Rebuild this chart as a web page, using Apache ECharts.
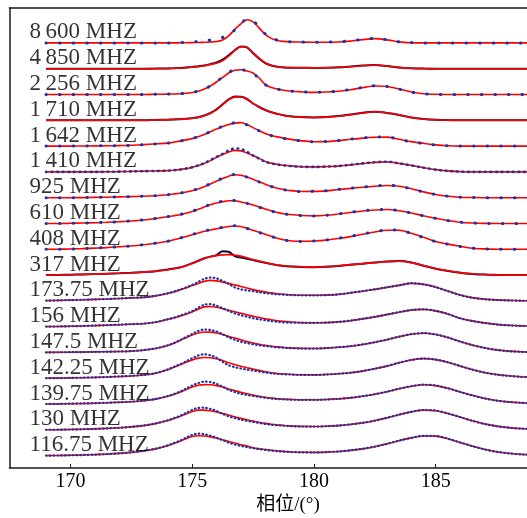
<!DOCTYPE html>
<html>
<head>
<meta charset="utf-8">
<script src="https://cdn.jsdelivr.net/npm/echarts@6/dist/echarts.min.js"></script>
<style>
  html, body { margin: 0; padding: 0; background: #fff; }
  #chart { width: 527px; height: 518px; }
</style>
</head>
<body>
<div id="chart"></div>
<script>
// Phase grid (degrees) shared by every profile: 0.5° steps, 0.25° across the main pulse
const phase = [169, 169.5, 170, 170.5, 171, 171.5, 172, 172.5, 173, 173.5,
  174, 174.25, 174.5, 174.75, 175, 175.25, 175.5, 175.75, 176, 176.25, 176.5, 176.75, 177, 177.25, 177.5, 177.75, 178, 178.25, 178.5, 178.75, 179,
  179.5, 180, 180.5, 181, 181.5, 182, 182.5, 183, 183.5, 184, 184.5, 185, 185.5, 186, 186.5, 187, 187.5, 188, 188.5, 189];

// Observing bands, top to bottom
const bandLabels = ['8\u2009600 MHZ', '4\u2009850 MHZ', '2\u2009256 MHZ', '1\u2009710 MHZ', '1\u2009642 MHZ', '1\u2009410 MHZ',
  '925 MHZ', '610 MHZ', '408 MHZ', '317 MHZ', '173.75 MHZ', '156 MHZ', '147.5 MHZ', '142.25 MHZ', '139.75 MHZ', '130 MHZ', '116.75 MHZ'];

// Fitted profiles (red) and observed profiles, relative flux
const fit8600 = [0,0,0,0,0,0,0,0,0,0,
  0,0,0.1,0.2,0.3,0.4,0.6,0.9,1.4,3,7,13.5,19,23.2,21,15,8.5,4.5,2.4,1.5,1.1,
  0.8,0.6,0.6,0.9,1.8,3.3,4.3,3,1,0.2,0,0,0,0,0,0,0,0,0,0];
const obs8600 = [0,0,0,0,0,0,0,0,0,0,
  0,0.1,0.3,0.6,1,1.4,1.8,2.8,4,5.5,7.5,13,19.5,23.5,22.3,15.5,9,4.5,2.8,1.6,1.1,
  0.8,0.7,0.8,1.2,2,3.4,4.5,3.2,1.1,0.3,0,0,0,0,0,0,0,0,0,0];
const fit4850 = [0,0,0,0,0,0,0,0,0,0.1,
  0.3,0.5,0.7,1,1.5,2.1,3,4.2,5.5,8,12.5,18,22,21.5,16,10.5,6,3.5,2,1.4,1.1,
  0.9,0.8,0.9,1.2,2,3,3.7,2.6,1.1,0.4,0.1,0,0,0,0,0,0,0,0,0];
const obs4850 = [0,0,0,0,0,0,0,0,0,0.1,
  0.3,0.5,0.8,1.2,1.8,2.5,3.3,4.6,6.3,9,13.5,18.5,22.3,21.3,15.5,10,5.5,3.2,1.9,1.3,1,
  0.9,0.8,1,1.4,2.2,3.1,3.8,2.7,1.2,0.4,0.1,0,0,0,0,0,0,0,0,0];
const fit2256 = [0,0,0,0,0,0,0,0,0,0.2,
  0.4,0.5,0.7,1.2,2,3.3,5.5,8.5,12.5,17,21.5,24.3,24.8,23.5,21.5,16.5,10,7,5.5,4.3,3.5,
  2.6,2.1,2.5,3.2,4.8,6.8,8.5,8,5.5,2.5,0.7,0.2,0,0,0,0,0,0,0,0];
const obs2256 = [0,0,0,0,0,0,0,0,0,0.2,
  0.4,0.5,0.8,1.3,2.1,3.4,5.6,8.6,12.8,17.5,22,24.8,25,23.5,21,16,10,7,5.4,4.2,3.4,
  2.6,2.2,2.6,3.3,5,7,8.7,8,5.4,2.4,0.7,0.2,0,0,0,0,0,0,0,0];
const fit1710 = [0,0,0,0,0,0,0,0,0,0.3,
  0.6,0.8,1,1.4,2,2.8,4.5,7,10.5,15.5,20.5,23.2,23.3,21.5,17,13.5,10.5,8,6.5,5,4,
  3.2,2.8,3.2,4,5.5,7.3,8.6,7.5,5.5,2.8,1.3,0.5,0.2,0,0,0,0,0,0,0];
const obs1710 = [0,0,0,0,0,0,0,0,0,0.3,
  0.6,0.8,1.1,1.5,2.1,3,4.8,7.3,11,16,21,23.8,23.5,21.3,16.8,13.3,10.3,8,6.4,5,4,
  3.2,2.9,3.3,4.2,5.7,7.5,8.5,7.3,5.3,2.8,1.3,0.5,0.2,0,0,0,0,0,0,0];
const fit1642 = [0,0,0,0.1,0.2,0.3,0.5,0.8,1.5,2.3,
  3,4,5,6.2,7.5,9.3,11.5,14.3,17,19.5,21.5,23,23.5,21.5,18.5,15.5,12.5,10.7,9.2,8,7,
  5.2,4.4,4.5,5.5,6.8,8,8.8,9,6.8,4.5,2.8,1.2,0.3,0,0,0,0,0,0,0];
const obs1642 = [0,0,0,0.1,0.2,0.3,0.5,0.8,1.4,2.2,
  3,4,5,6.3,7.6,9.5,11.8,14.5,17.2,19.8,21.8,23.3,23.5,21.3,18.2,15.3,12.3,10.5,9,7.8,6.9,
  5.1,4.4,4.6,5.6,7,8.2,9,9.1,6.7,4.3,2.6,1.1,0.3,0,0,0,0,0,0,0];
const fit1410 = [0,0,0,0,0,0.1,0.3,0.5,0.8,0.9,
  1.3,1.7,2.3,3.3,4.5,6.3,8.5,11.3,14.5,17.5,20,21.5,21,19,16.5,13.5,10.5,8.8,7.5,6.6,6,
  5.2,5,5.3,5.8,7,8.3,9.5,10,8.5,6.5,4.3,2.3,1,0.3,0,0,0,0,0,0];
const obs1410 = [0,0,0,0,0,0.1,0.3,0.5,0.7,0.9,
  1.3,1.7,2.3,3.3,4.6,6.5,8.8,11.8,15,18,21.5,23.5,23,20,16.5,13.2,10.2,8.5,7.3,6.5,5.9,
  5.1,5,5.3,5.9,7.1,8.5,9.7,10.2,8.5,6.4,4.2,2.2,1,0.3,0,0,0,0,0,0];
const fit925 = [0,0,0,0.1,0.3,0.5,0.8,1.1,1.4,2,
  3,3.7,4.5,5.7,7,8.8,11,13.8,16.5,19.2,21.5,23,22.5,20.7,18.5,16,13.5,11.3,9.5,8.2,7.2,
  6.2,6.3,6.8,8.2,9.3,10.5,11.5,12.2,11.5,9,5.8,3.2,1.5,0.5,0.2,0,0,0,0,0];
const obs925 = [0,0,0,0.1,0.3,0.5,0.8,1.1,1.5,2,
  3,3.7,4.6,5.8,7.2,9,11.2,14,16.8,19.5,21.8,23.3,22.6,20.6,18.3,15.8,13.3,11.2,9.4,8.1,7.1,
  6.2,6.4,6.9,8.3,9.5,10.6,11.7,12.4,11.5,8.9,5.7,3.1,1.5,0.5,0.2,0,0,0,0,0];
const fit610 = [0,0,0.2,0.5,0.8,1.2,1.8,2.5,3.5,5,
  6.8,7.8,8.8,10.3,12,14.2,16.5,18.7,20.5,21.8,22.8,22.7,21.5,20.2,18.5,16.5,14.5,12.7,11,9.8,9,
  8,7.6,8.2,9.5,11,12.5,13.5,14,12.8,10.5,7.8,5.2,3,1.3,0.5,0.1,0,0,0,0];
const obs610 = [0,0,0.2,0.5,0.8,1.2,1.8,2.6,3.6,5.1,
  6.9,7.9,9,10.5,12.2,14.4,16.8,19,20.8,22.2,23.2,22.9,21.6,20.1,18.3,16.3,14.3,12.5,10.9,9.7,8.9,
  7.9,7.5,8.2,9.6,11.2,12.7,13.7,14.2,12.8,10.4,7.7,5.1,2.9,1.3,0.5,0.1,0,0,0,0];
const fit408 = [0,0.1,0.3,0.7,1.2,1.7,2.5,3.3,4.5,6,
  8,9.5,11,12.7,14.5,16.3,18,19.3,20.5,21.7,22.8,23.3,22.8,21,19,17,15,13,11,9.6,8.6,
  8,8.3,9.2,10.8,12.7,15,17.3,19,19,16,12,7.8,5.2,3,1.1,0.4,0.1,0,0,0];
const obs408 = [0,0.1,0.3,0.7,1.2,1.8,2.5,3.4,4.6,6.1,
  8.1,9.6,11.2,13,14.8,16.6,18.3,19.6,20.8,22,23.2,23.5,22.8,20.9,18.8,16.8,14.8,12.8,10.9,9.5,8.5,
  7.9,8.3,9.3,11,13,15.3,17.6,19.3,19.1,15.9,11.8,7.7,5.1,2.9,1.1,0.4,0.1,0,0,0];
const fit317 = [0,0.2,0.4,0.7,1,1.4,1.8,2.3,3,3.8,
  5.5,6.5,7.5,9.3,11.5,14,16.5,18.3,19.5,20.2,20.5,20,19,17.3,15.5,14,12.5,11.2,10,9.3,8.8,
  8.2,8,8.5,9.3,10.5,11.5,12.5,13.5,13.8,12.5,9.5,6.5,4.3,2.5,1.3,0.6,0.2,0,0,0];
const obs317 = [0,0.2,0.4,0.7,1,1.4,1.8,2.3,3,3.9,
  5.6,6.6,7.7,9.5,11.8,14.3,16.8,18.5,20,23.8,23.3,19,17.5,16.3,15,13.5,12.3,11,9.9,9.2,8.7,
  8.1,7.9,8.4,9.2,10.4,11.4,12.6,13.7,14,12.6,9.4,6.4,4.2,2.4,1.2,0.5,0.2,0,0,0];
const fit173 = [0.3,0.5,0.8,1.1,1.5,1.9,2.4,3,3.5,5,
  7.5,9,10.8,13,15.3,17.5,19.5,20.5,20,18.8,17.5,16,14.5,12.8,11.3,10,9,8,7.2,6.6,6.2,
  5.7,5.6,5.8,6.5,8,9.7,11.5,13.5,15.5,17.5,16.5,13.8,9.8,6,3.3,1.8,1,0.5,0.2,0.1];
const obs173 = [0.3,0.5,0.8,1.1,1.5,1.9,2.4,3,3.6,5.1,
  7.7,9.3,11.3,13.5,16,19,22,23.3,22.5,20,17,13.5,11.5,10.5,9.8,8.7,7.8,7.2,6.6,6.2,5.9,
  5.6,5.5,5.8,6.5,8.1,9.8,11.6,13.6,15.7,17.7,16.6,13.7,9.7,5.9,3.2,1.7,0.9,0.5,0.2,0.1];
const fit156 = [0.1,0.2,0.4,0.7,1.1,1.5,2,2.5,3,4.5,
  7.3,8.8,10.5,12.5,14.8,17.5,19.8,20.2,19.5,18,16.5,15,13.5,12,10.5,9.2,8,7,6,5.3,4.8,
  4.1,3.9,4.1,4.8,6,7.8,9.8,12.1,14.5,16.6,17.3,15.8,12.8,8.5,5.8,3.8,2.3,1.4,0.8,0.5];
const obs156 = [0.1,0.2,0.4,0.7,1.1,1.5,2,2.5,3.1,4.6,
  7.5,9.1,11,13.2,15.5,19,22,22.5,21,18.5,15.8,13.3,11.5,10,8.5,7.4,6.5,5.6,4.9,4.4,4.1,
  3.9,3.8,4.1,4.8,6.1,7.9,9.9,12.2,14.6,16.7,17.4,15.8,12.7,8.4,5.7,3.7,2.2,1.3,0.8,0.5];
const fit147 = [0.1,0.2,0.3,0.4,0.6,0.8,1,1.3,2.3,4,
  7,9.3,12,14.8,17.5,19.5,20.5,20.4,19.5,18,16.2,14.5,12.8,11,9.5,8.3,7.2,6.3,5.6,5,4.6,
  4.1,4,4.4,5.2,6.3,8,10.2,12.8,15.8,18.3,19.3,18,15,11,7.5,4.7,2.6,1.4,0.7,0.3];
const obs147 = [0.1,0.2,0.3,0.4,0.6,0.8,1,1.4,2.4,4.1,
  7.2,9.5,12.3,15.5,18.5,21.5,23,22.5,21,18.3,15.2,12.8,10.8,9.5,8.3,7.3,6.5,5.8,5.2,4.8,4.4,
  4,3.9,4.4,5.2,6.4,8.1,10.3,12.9,15.9,18.4,19.4,18.1,15,11,7.4,4.6,2.5,1.3,0.7,0.3];
const fit142 = [0.1,0.2,0.4,0.6,0.9,1.3,1.8,2.3,3.3,5,
  8.6,11,13.5,16,18.3,20.2,20.8,20.5,19.5,17.8,15.5,13.7,12,10.6,9.3,7.9,6.5,5.6,4.8,4.3,4,
  3.5,3.4,3.8,4.5,5.5,7.2,9.5,12.2,15.5,18.3,19.7,18.7,16,12.3,8.8,5.8,3.8,2.5,1.6,1];
const obs142 = [0.1,0.2,0.4,0.6,0.9,1.3,1.8,2.4,3.4,5.2,
  8.9,11.4,14,17,20,22.8,24,23,20.5,16.5,13,11.2,9.8,8.7,7.8,6.8,5.8,5,4.4,4,3.8,
  3.4,3.3,3.8,4.5,5.6,7.3,9.6,12.3,15.6,18.4,19.8,18.8,16,12.3,8.7,5.7,3.7,2.4,1.5,1];
const fit139 = [0.1,0.2,0.4,0.6,0.9,1.3,1.8,2.4,3.4,5,
  7.8,9.6,11.8,14.5,17,18.8,19.5,19.3,18.5,17,15.2,13.5,11.8,10.3,9,7.8,6.8,6,5.4,5,4.7,
  4.3,4.3,4.6,5.2,6.2,7.8,9.8,12.3,15.3,17.8,19.3,18.5,15.8,12.2,8.8,5.8,3.6,2.2,1.3,0.8];
const obs139 = [0.1,0.2,0.4,0.6,0.9,1.3,1.8,2.4,3.5,5.1,
  8,10,12.5,15.5,18.5,21,22.5,22,20.3,17.5,14.3,12,10.3,9.2,8.2,7.2,6.3,5.6,5.1,4.8,4.5,
  4.2,4.2,4.6,5.2,6.3,7.9,9.9,12.4,15.4,17.9,19.4,18.6,15.8,12.2,8.7,5.7,3.5,2.1,1.3,0.8];
const fit130 = [0.1,0.2,0.4,0.6,1,1.5,2.1,3,4.3,6.3,
  9.3,11.3,13.5,16,18.3,19.8,19.8,19.2,18,16.5,14.8,13.2,11.5,10.1,8.8,7.6,6.5,5.7,5,4.4,4,
  3.5,3.4,3.7,4.3,5.4,7,9.2,12,15.2,18,19.8,19.2,16.5,12.8,9.2,6,3.8,2.3,1.4,0.8];
const obs130 = [0.1,0.2,0.4,0.6,1,1.5,2.1,3.1,4.4,6.5,
  9.6,11.7,14,17,20,22,22.2,21,19,16,13.5,11.8,10.3,9.1,8,7,6,5.2,4.6,4.2,3.8,
  3.4,3.3,3.7,4.3,5.5,7.1,9.3,12.1,15.3,18.1,19.9,19.3,16.5,12.8,9.1,5.9,3.7,2.2,1.3,0.8];
const fit116 = [0.1,0.2,0.4,0.7,1.1,1.6,2.3,3.3,4.7,6.8,
  10,12.2,14.5,17,19.2,20,19.7,18.8,17.5,16,14.3,12.6,11,9.6,8,7,6.2,5.4,4.8,4.3,3.9,
  3.4,3.3,3.6,4.2,5.3,6.8,9,11.8,15,17.8,19.7,19.6,17,13.3,9.6,6.4,4,2.4,1.4,0.8];
const obs116 = [0.1,0.2,0.4,0.7,1.1,1.6,2.3,3.4,4.8,7,
  10.3,12.6,15,18,20.7,22,21.5,20,18,15.5,13,11.2,9.8,8.6,7.5,6.6,5.8,5.1,4.5,4.1,3.7,
  3.3,3.2,3.6,4.2,5.4,6.9,9.1,11.9,15.1,17.9,19.8,19.7,17,13.2,9.5,6.3,3.9,2.3,1.3,0.8];

const fitCurves = [fit8600, fit4850, fit2256, fit1710, fit1642, fit1410, fit925, fit610, fit408,
  fit317, fit173, fit156, fit147, fit142, fit139, fit130, fit116];
const obsCurves = [obs8600, obs4850, obs2256, obs1710, obs1642, obs1410, obs925, obs610, obs408,
  obs317, obs173, obs156, obs147, obs142, obs139, obs130, obs116];
// how the observed trace is drawn for each band
const obsLook = ['sparse', 'solid', 'sparse', 'solid', 'sparse', 'fine', 'sparse', 'sparse', 'sparse',
  'solid', 'dense', 'dense', 'dense', 'dense', 'dense', 'dense', 'dense'];

const xTicks = [170, 175, 180, 185];

const SPACING = 25.8;       // vertical offset between stacked profiles
const LABEL_X = 168.3;      // left edge of band labels (degrees)
const serif = '"Liberation Serif", "Times New Roman", "Noto Sans CJK SC", serif';

const chart = echarts.init(document.getElementById('chart'), null, { renderer: 'canvas' });

const series = [];
const labelData = [];
bandLabels.forEach((label, k) => {
  const base = (bandLabels.length - 1 - k) * SPACING;
  const look = obsLook[k];
  let obsStyle;
  if (look === 'solid') {
    obsStyle = { color: '#0d0d3c', width: 2 };
  } else if (look === 'dense') {
    obsStyle = { color: '#1b34a6', width: 2.2, type: [0.6, 3.2], cap: 'round' };
  } else if (look === 'fine') {
    obsStyle = { color: '#1b34a6', width: 2.6, type: [0.6, 5], cap: 'round' };
  } else {
    obsStyle = { color: '#1b34a6', width: 3, type: [0.6, 13], cap: 'round' };
  }
  series.push({
    type: 'line', silent: true, symbol: 'none', smooth: 0.3,
    z: look === 'solid' ? 2 : 4,
    lineStyle: obsStyle,
    data: phase.map((x, i) => [x, base + obsCurves[k][i]])
  });
  series.push({
    type: 'line', silent: true, symbol: 'none', smooth: 0.3, z: 3,
    lineStyle: { color: '#ff0000', width: 1.6 },
    data: phase.map((x, i) => [x, base + fitCurves[k][i]])
  });
  labelData.push([LABEL_X, base + 10.5, label]);
});

series.push({
  type: 'scatter', silent: true, symbolSize: 1, z: 6,
  itemStyle: { color: 'rgba(0,0,0,0)' },
  label: {
    show: true, position: 'right', distance: 0,
    formatter: p => p.data[2],
    fontFamily: serif, fontSize: 23, color: '#000'
  },
  data: labelData
});

const axisColor = '#1a1a1a';
chart.setOption({
  animation: false,
  backgroundColor: '#fff',
  grid: { left: 9.5, right: 0, top: 8, bottom: 50, containLabel: false },
  xAxis: [{
    type: 'value', min: 167.5, max: 188.75,
    axisLine: { show: true, onZero: false, lineStyle: { color: axisColor, width: 1.5 } },
    axisTick: { show: true, inside: true, length: 4, customValues: xTicks, lineStyle: { color: axisColor, width: 1 } },
    axisLabel: { customValues: xTicks, fontFamily: serif, fontSize: 20, color: '#000', margin: 4 },
    splitLine: { show: false }
  }, {
    type: 'value', position: 'top', min: 167.5, max: 188.75,
    axisLine: { show: true, onZero: false, lineStyle: { color: axisColor, width: 1.5 } },
    axisTick: { show: false }, axisLabel: { show: false }, splitLine: { show: false }
  }],
  yAxis: {
    type: 'value', min: -12.3, max: 447.7,
    axisLine: { show: true, onZero: false, lineStyle: { color: axisColor, width: 1.5 } },
    axisTick: { show: false }, axisLabel: { show: false }, splitLine: { show: false }
  },
  graphic: [{
    type: 'text', x: 288, y: 505, silent: true,
    style: { text: '相位/(°)', fontFamily: serif, fontSize: 19, fill: '#000', align: 'center', verticalAlign: 'middle' }
  }],
  series: series
});
</script>
</body>
</html>
